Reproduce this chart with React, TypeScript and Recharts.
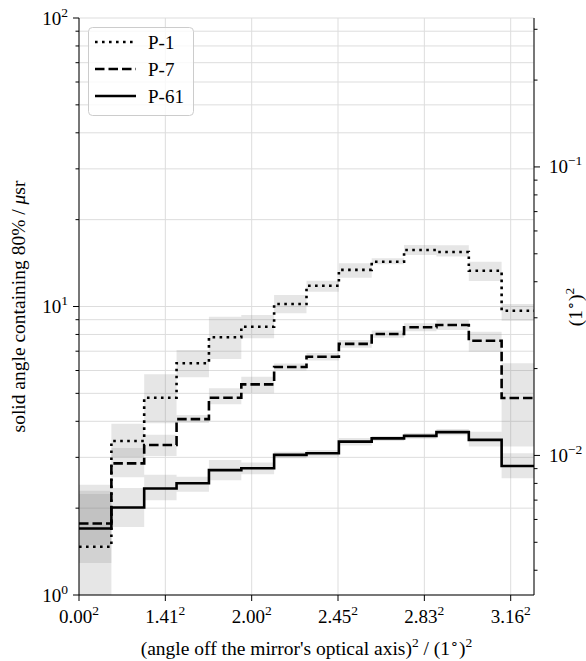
import React from "react";
import { ComposedChart, Line, Area, XAxis, YAxis, CartesianGrid, Legend } from "recharts";

const FONT = "'Liberation Serif', 'Times New Roman', serif";
const TICK_FS = 19;
const SUP_FS = 13.5;
const LABEL_FS = 19.5;

// bin edges in (angle)^2 / (1 deg)^2
const EDGES = [0, 0.75, 1.51, 2.26, 3.01, 3.76, 4.52, 5.27, 6.02, 6.78, 7.53, 8.28, 9.03, 9.79, 10.54];

// solid angle containing 80% / usr, one value per bin
const P1 = [1.47, 3.42, 4.83, 6.36, 7.82, 8.51, 10.2, 11.8, 13.4, 14.3, 15.7, 15.45, 13.3, 9.67];
const P1_LO = [0.95, 3.01, 3.94, 5.68, 6.58, 7.76, 9.47, 11.25, 12.59, 14.0, 15.08, 14.9, 12.26, 8.93];
const P1_HI = [2.3, 3.92, 5.82, 7.07, 9.22, 9.34, 10.96, 12.29, 14.12, 14.69, 16.34, 16.3, 14.3, 10.2];

const P7 = [1.77, 2.86, 3.31, 4.07, 4.83, 5.37, 6.17, 6.7, 7.42, 8.03, 8.47, 8.63, 7.61, 4.82];
const P7_LO = [1.29, 2.56, 3.03, 3.95, 4.58, 5.0, 6.0, 6.5, 7.2, 7.8, 8.2, 8.29, 6.97, 3.27];
const P7_HI = [2.41, 3.23, 3.59, 4.21, 5.21, 5.71, 6.35, 6.9, 7.65, 8.25, 8.75, 8.98, 8.18, 6.36];

const P61 = [1.7, 2.01, 2.34, 2.44, 2.71, 2.75, 3.06, 3.1, 3.4, 3.49, 3.56, 3.67, 3.45, 2.8];
const P61_LO = [1.49, 1.72, 2.13, 2.28, 2.5, 2.62, 2.98, 3.02, 3.3, 3.42, 3.48, 3.58, 3.27, 2.54];
const P61_HI = [2.24, 2.35, 2.61, 2.57, 2.94, 2.88, 3.14, 3.18, 3.5, 3.56, 3.64, 3.76, 3.68, 3.1];

const X_TICKS = [0, 2, 4, 6, 8, 10];
const Y_TICKS = [1, 2, 3, 4, 5, 6, 7, 8, 9, 10, 20, 30, 40, 50, 60, 70, 80, 90, 100];
const R_TICKS = [0.004, 0.005, 0.006, 0.007, 0.008, 0.009, 0.01, 0.02, 0.03, 0.04, 0.05, 0.06, 0.07, 0.08, 0.09, 0.1, 0.2, 0.3];
const USR_PER_DEG2 = 304.62;

const rows = EDGES.map((x, i) => {
  const j = Math.min(i, P1.length - 1);
  return {
    x,
    p1: P1[j],
    p7: P7[j],
    p61: P61[j],
    b1: [P1_LO[j], P1_HI[j]],
    b7: [P7_LO[j], P7_HI[j]],
    b61: [P61_LO[j], P61_HI[j]],
  };
});

const isMajor = (v: number) => Math.abs(Math.log10(v) - Math.round(Math.log10(v))) < 1e-6;
const expText = (v: number) => {
  const e = Math.round(Math.log10(v));
  return e < 0 ? "\u2212" + Math.abs(e) : String(e);
};

const txt = { fontFamily: FONT, fill: "#000" };

const LeftTick = (props: any) => {
  const { x, y, payload } = props;
  const major = isMajor(payload.value);
  return (
    <g>
      <line x1={x - (major ? 6 : 3.5)} x2={x} y1={y} y2={y} stroke="#000" />
      {major && (
        <text x={x - 11} y={y + 6.5} textAnchor="end" fontSize={TICK_FS} style={txt}>
          10<tspan dy={-8} fontSize={SUP_FS}>{expText(payload.value)}</tspan>
        </text>
      )}
    </g>
  );
};

const RightTick = (props: any) => {
  const { x, y, payload } = props;
  const major = isMajor(payload.value);
  return (
    <g>
      <line x1={x} x2={x + (major ? 6 : 3.5)} y1={y} y2={y} stroke="#000" />
      {major && (
        <text x={x + 15} y={y + 6.5} textAnchor="start" fontSize={TICK_FS} style={txt}>
          10<tspan dy={-8} fontSize={SUP_FS}>{expText(payload.value)}</tspan>
        </text>
      )}
    </g>
  );
};

const BottomTick = (props: any) => {
  const { x, y, payload } = props;
  return (
    <g>
      <line x1={x} x2={x} y1={y} y2={y + 6} stroke="#000" />
      <text x={x} y={y + 28} textAnchor="middle" fontSize={TICK_FS} style={txt}>
        {Math.sqrt(payload.value).toFixed(2)}
        <tspan dy={-8} fontSize={SUP_FS}>2</tspan>
      </text>
    </g>
  );
};

const SERIES = [
  { name: "P-1", dash: "2.6 4.4" },
  { name: "P-7", dash: "9.5 4" },
  { name: "P-61", dash: undefined },
];

const LegendBox = () => (
  <svg width={106} height={89} style={{ display: "block" }}>
    <rect x={0.5} y={0.5} width={105} height={88} rx={4} fill="#fff" fillOpacity={0.8} stroke="#cccccc" />
    {SERIES.map((s, i) => {
      const cy = 15 + i * 27;
      return (
        <g key={s.name}>
          <line x1={7} x2={48} y1={cy} y2={cy} stroke="#000" strokeWidth={2.6} strokeDasharray={s.dash} />
          <text x={60} y={cy + 6.5} fontSize={TICK_FS} style={txt}>{s.name}</text>
        </g>
      );
    })}
  </svg>
);

export default function App() {
  return (
    <div style={{ position: "absolute", left: 0, top: 0 }}>
      <ComposedChart width={586} height={661} data={rows} margin={{ top: 18, right: 0, bottom: 0, left: 0 }}>
        <CartesianGrid stroke="#dddddd" strokeWidth={1} />
        <XAxis
          dataKey="x"
          type="number"
          domain={[0, 10.54]}
          ticks={X_TICKS}
          interval={0}
          allowDataOverflow
          height={66}
          stroke="#000"
          tickLine={false}
          tickSize={0}
          tickMargin={0}
          tick={<BottomTick />}
          label={() => (
            <text x={306.5} y={655} textAnchor="middle" fontSize={LABEL_FS} style={txt}>
              (angle off the mirror's optical axis)<tspan dy={-8} fontSize={SUP_FS}>2</tspan>
              <tspan dy={8}> / (1</tspan><tspan dy={-7} fontSize={SUP_FS}>{"\u2218"}</tspan><tspan dy={7}>)</tspan>
              <tspan dy={-8} fontSize={SUP_FS}>2</tspan>
            </text>
          )}
        />
        <YAxis
          scale="log"
          domain={[1, 100]}
          ticks={Y_TICKS}
          interval={0}
          allowDataOverflow
          width={79}
          stroke="#000"
          tickLine={false}
          tickSize={0}
          tickMargin={0}
          tick={<LeftTick />}
          label={() => (
            <text x={25} y={306.5} transform="rotate(-90 25 306.5)" textAnchor="middle" fontSize={LABEL_FS} style={txt}>
              solid angle containing 80% / <tspan fontStyle="italic">μ</tspan>sr
            </text>
          )}
        />
        <YAxis
          yAxisId="r"
          orientation="right"
          scale="log"
          domain={[1 / USR_PER_DEG2, 100 / USR_PER_DEG2]}
          ticks={R_TICKS}
          interval={0}
          allowDataOverflow
          width={52}
          stroke="#000"
          tickLine={false}
          tickSize={0}
          tickMargin={0}
          tick={<RightTick />}
          label={() => (
            <text x={582} y={307} transform="rotate(-90 582 307)" textAnchor="middle" fontSize={LABEL_FS} style={txt}>
              (1<tspan dy={-7} fontSize={SUP_FS}>{"\u2218"}</tspan><tspan dy={7}>)</tspan>
              <tspan dy={-8} fontSize={SUP_FS}>2</tspan>
            </text>
          )}
        />
        <Area dataKey="b1" type="stepAfter" stroke="none" fill="#808080" fillOpacity={0.2} isAnimationActive={false} />
        <Area dataKey="b7" type="stepAfter" stroke="none" fill="#808080" fillOpacity={0.2} isAnimationActive={false} />
        <Area dataKey="b61" type="stepAfter" stroke="none" fill="#808080" fillOpacity={0.2} isAnimationActive={false} />
        <Line dataKey="p1" type="stepAfter" stroke="#000" strokeWidth={2.6} strokeDasharray="2.6 4.4" dot={false} activeDot={false} isAnimationActive={false} />
        <Line dataKey="p7" type="stepAfter" stroke="#000" strokeWidth={2.6} strokeDasharray="9.5 4" dot={false} activeDot={false} isAnimationActive={false} />
        <Line dataKey="p61" type="stepAfter" stroke="#000" strokeWidth={2.6} dot={false} activeDot={false} isAnimationActive={false} />
        <Legend
          layout="vertical"
          align="center"
          verticalAlign="middle"
          content={() => <LegendBox />}
          wrapperStyle={{ position: "absolute", left: 88, top: 27, width: 106, height: 89 }}
        />
      </ComposedChart>
    </div>
  );
}
